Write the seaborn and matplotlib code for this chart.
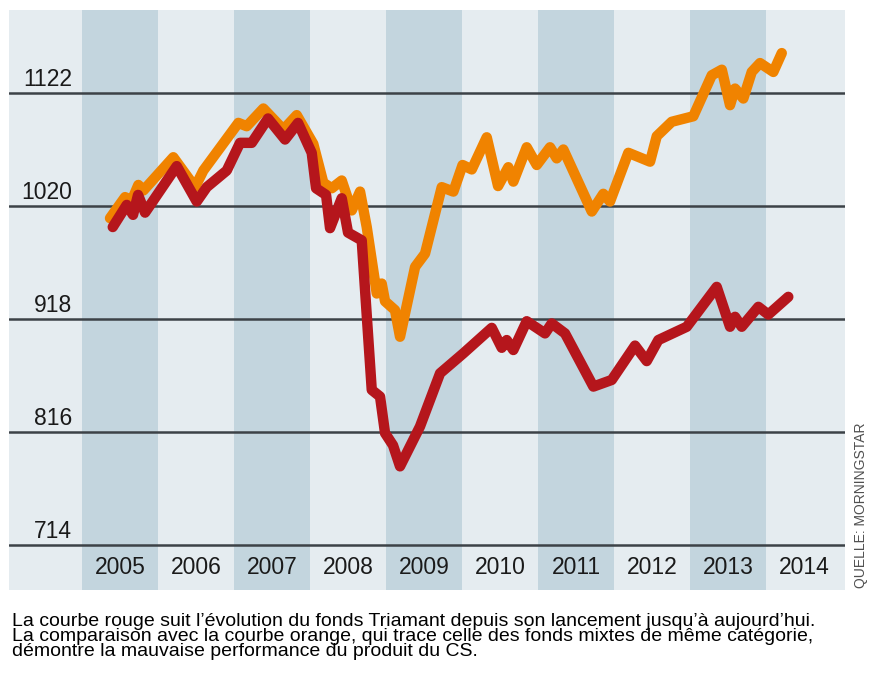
import numpy as np
import pandas as pd
import matplotlib
matplotlib.use("Agg")
import matplotlib.pyplot as plt
import seaborn as sns

# fonds Triamant (rouge) - annee decimale / valeur
triamant_t = [2005.404, 2005.588, 2005.671, 2005.737, 2005.829, 2006.246, 2006.509, 2006.641,
              2006.904, 2007.079, 2007.233, 2007.447, 2007.671, 2007.842, 2008.022, 2008.079,
              2008.211, 2008.263, 2008.417, 2008.500, 2008.680, 2008.812, 2008.921, 2008.987,
              2009.092, 2009.184, 2009.447, 2009.711, 2010.017, 2010.391, 2010.522, 2010.588,
              2010.675, 2010.851, 2011.092, 2011.180, 2011.355, 2011.728, 2011.970, 2012.276,
              2012.430, 2012.583, 2012.957, 2013.351, 2013.526, 2013.592, 2013.680, 2013.899,
              2014.030, 2014.293]
triamant_v = [1001, 1021, 1012, 1030, 1014, 1056, 1024, 1037,
              1052, 1077, 1077, 1099, 1080, 1095, 1068, 1036,
              1030, 1000, 1027, 996, 989, 854, 848, 815,
              804, 785, 821, 869, 887, 910, 892, 899,
              890, 916, 905, 914, 905, 857, 863, 894,
              880, 899, 911, 947, 911, 920, 911, 929,
              922, 938]

# fonds mixtes de meme categorie (orange)
mixtes_t = [2005.368, 2005.566, 2005.654, 2005.741, 2005.807, 2006.201, 2006.487, 2006.596,
            2007.057, 2007.167, 2007.386, 2007.649, 2007.825, 2008.043, 2008.175, 2008.286,
            2008.417, 2008.549, 2008.658, 2008.746, 2008.878, 2008.943, 2008.987, 2009.118,
            2009.184, 2009.382, 2009.513, 2009.733, 2009.886, 2010.007, 2010.128, 2010.325,
            2010.474, 2010.609, 2010.675, 2010.851, 2010.983, 2011.158, 2011.246, 2011.333,
            2011.707, 2011.859, 2011.947, 2012.188, 2012.474, 2012.562, 2012.759, 2013.043,
            2013.286, 2013.418, 2013.526, 2013.592, 2013.701, 2013.812, 2013.921, 2014.096,
            2014.207]
mixtes_v = [1009, 1028, 1025, 1039, 1034, 1064, 1037, 1052,
            1095, 1092, 1108, 1089, 1102, 1076, 1041, 1036,
            1043, 1016, 1033, 1001, 941, 950, 934, 926,
            902, 965, 977, 1037, 1033, 1057, 1053, 1082,
            1038, 1055, 1042, 1073, 1057, 1073, 1063, 1071,
            1015, 1031, 1024, 1068, 1060, 1083, 1096, 1101,
            1138, 1143, 1111, 1126, 1117, 1141, 1149, 1141,
            1158]

years = [2005, 2006, 2007, 2008, 2009, 2010, 2011, 2012, 2013, 2014]
y_ticks = [1122, 1020, 918, 816, 714]

caption = ["La courbe rouge suit l\u2019\u00e9volution du fonds Triamant depuis son lancement jusqu\u2019\u00e0 aujourd\u2019hui.",
           "La comparaison avec la courbe orange, qui trace celle des fonds mixtes de m\u00eame cat\u00e9gorie,",
           "d\u00e9montre la mauvaise performance du produit du CS."]

sns.set_theme(style="white")
plt.rcParams['font.family'] = ['Liberation Sans', 'DejaVu Sans']

dark_band = "#c3d5de"
light_band = "#e5ecf0"
red = "#b5161c"
orange = "#f08300"

fig = plt.figure(figsize=(8.76, 6.8), dpi=100)
ax = fig.add_axes([9/876, 1 - 590/680, 836/876, 580/680])
ax.set_xlim(2004.039, 2015.039)
ax.set_ylim(673.4, 1196.9)
ax.set_facecolor(light_band)
for s in ax.spines.values():
    s.set_visible(False)
ax.set_xticks([])
ax.set_yticks([])

# bandes annuelles
for i, y in enumerate(years):
    if i % 2 == 0:
        ax.axvspan(y, y + 1, color=dark_band, lw=0, zorder=0)

for v in y_ticks:
    ax.axhline(v, color="#3c4247", lw=1.8, zorder=1)
    ax.text(2004.868, v + 6.5, str(v), ha="right", va="baseline", fontsize=16.5,
            color="#1a1a1a", zorder=3)

for y in years:
    ax.text(y + 0.5, 694, str(y), ha="center", va="center", fontsize=16.5,
            color="#1a1a1a", zorder=3)

df_o = pd.DataFrame({"t": mixtes_t, "v": mixtes_v})
df_r = pd.DataFrame({"t": triamant_t, "v": triamant_v})
sns.lineplot(data=df_o, x="t", y="v", ax=ax, color=orange, lw=7.5,
             solid_capstyle="round", solid_joinstyle="round", zorder=4)
sns.lineplot(data=df_r, x="t", y="v", ax=ax, color=red, lw=7.5,
             solid_capstyle="round", solid_joinstyle="round", zorder=5)
ax.set_xlabel("")
ax.set_ylabel("")

fig.text(861/876, 1 - 588/680, "QUELLE: MORNINGSTAR", rotation=90, ha="center", va="bottom",
         fontsize=10, color="#505050")

for i, line in enumerate(caption):
    fig.text(12/876, 1 - (625.5 + 15.5 * i)/680, line, ha="left", va="baseline",
             fontsize=14, color="black")

fig.savefig("out.png", dpi=100)
